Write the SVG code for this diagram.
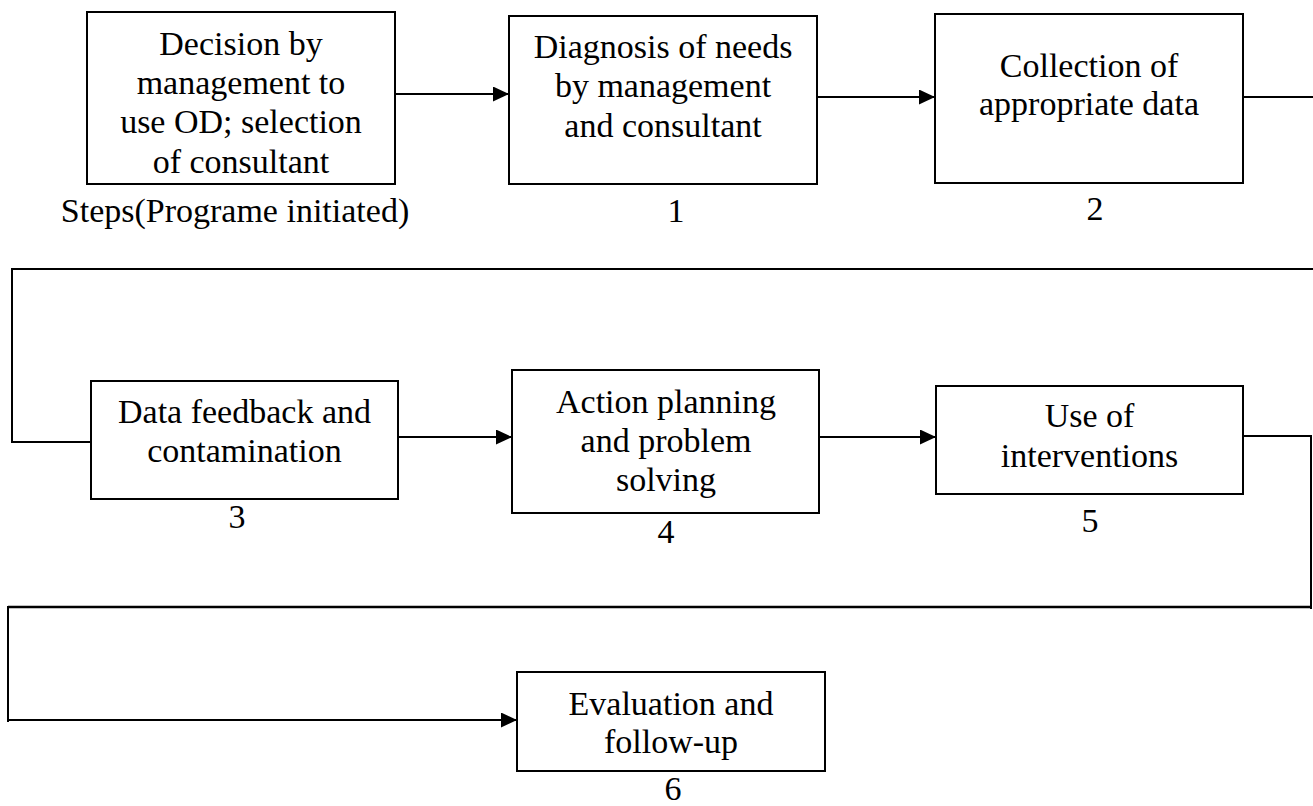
<svg xmlns="http://www.w3.org/2000/svg" width="1313" height="806" viewBox="0 0 1313 806">
  <style>
    .box { fill: #ffffff; stroke: #000000; stroke-width: 2; }
    .wire { fill: none; stroke: #000000; stroke-width: 2; }
    text { font-size: 34px; fill: #000000; text-anchor: middle; }
  </style>
  <defs>
    <marker id="arrow" markerUnits="userSpaceOnUse" markerWidth="17" markerHeight="15" refX="16" refY="7.5" orient="auto">
      <path d="M0,0 L16,7.5 L0,15 Z" fill="#000000"/>
    </marker>
  </defs>
  <rect width="1313" height="806" fill="#ffffff"/>

  <!-- connectors -->
  <g id="connectors">
    <line class="wire" x1="395" y1="94" x2="509" y2="94" marker-end="url(#arrow)"/>
    <line class="wire" x1="817" y1="97" x2="935" y2="97" marker-end="url(#arrow)"/>
    <line class="wire" x1="1243" y1="97" x2="1313" y2="97"/>
    <polyline class="wire" points="1313,269 12,269 12,442 91,442"/>
    <line class="wire" x1="398" y1="437" x2="512" y2="437" marker-end="url(#arrow)"/>
    <line class="wire" x1="819" y1="437" x2="936" y2="437" marker-end="url(#arrow)"/>
    <polyline class="wire" points="1237,436 1311,436 1311,609"/>
    <line class="wire" x1="1312" y1="607" x2="8" y2="607" style="stroke-width:2.5"/>
    <line class="wire" x1="8" y1="606" x2="8" y2="722"/>
    <line class="wire" x1="8" y1="720" x2="517" y2="720" marker-end="url(#arrow)"/>
  </g>

  <!-- step nodes -->
  <g id="nodes" font-family="Liberation Serif, Times New Roman, Times, serif">
    <g id="node-start">
      <rect class="box" x="87" y="12" width="308" height="172"/>
      <text x="241" y="55">Decision by</text>
      <text x="241" y="94">management to</text>
      <text x="241" y="133">use OD; selection</text>
      <text x="241" y="173">of consultant</text>
      <text x="235" y="222">Steps(Programe initiated)</text>
    </g>

    <g id="node-1">
      <rect class="box" x="509" y="16" width="308" height="168"/>
      <text x="663" y="58">Diagnosis of needs</text>
      <text x="663" y="97">by management</text>
      <text x="663" y="137">and consultant</text>
      <text x="676" y="222">1</text>
    </g>

    <g id="node-2">
      <rect class="box" x="935" y="14" width="308" height="169"/>
      <text x="1089" y="77">Collection of</text>
      <text x="1089" y="115">appropriate data</text>
      <text x="1095" y="220">2</text>
    </g>

    <g id="node-3">
      <rect class="box" x="91" y="381" width="307" height="118"/>
      <text x="244.5" y="423">Data feedback and</text>
      <text x="244.5" y="462">contamination</text>
      <text x="237" y="528">3</text>
    </g>

    <g id="node-4">
      <rect class="box" x="512" y="370" width="307" height="143"/>
      <text x="666" y="413">Action planning</text>
      <text x="666" y="452">and problem</text>
      <text x="666" y="491">solving</text>
      <text x="666" y="543">4</text>
    </g>

    <g id="node-5">
      <rect class="box" x="936" y="386" width="307" height="108"/>
      <text x="1089.5" y="427">Use of</text>
      <text x="1089.5" y="467">interventions</text>
      <text x="1090" y="532">5</text>
    </g>

    <g id="node-6">
      <rect class="box" x="517" y="672" width="308" height="99"/>
      <text x="671" y="715">Evaluation and</text>
      <text x="671" y="753">follow-up</text>
      <text x="673" y="800">6</text>
    </g>
  </g>
</svg>
